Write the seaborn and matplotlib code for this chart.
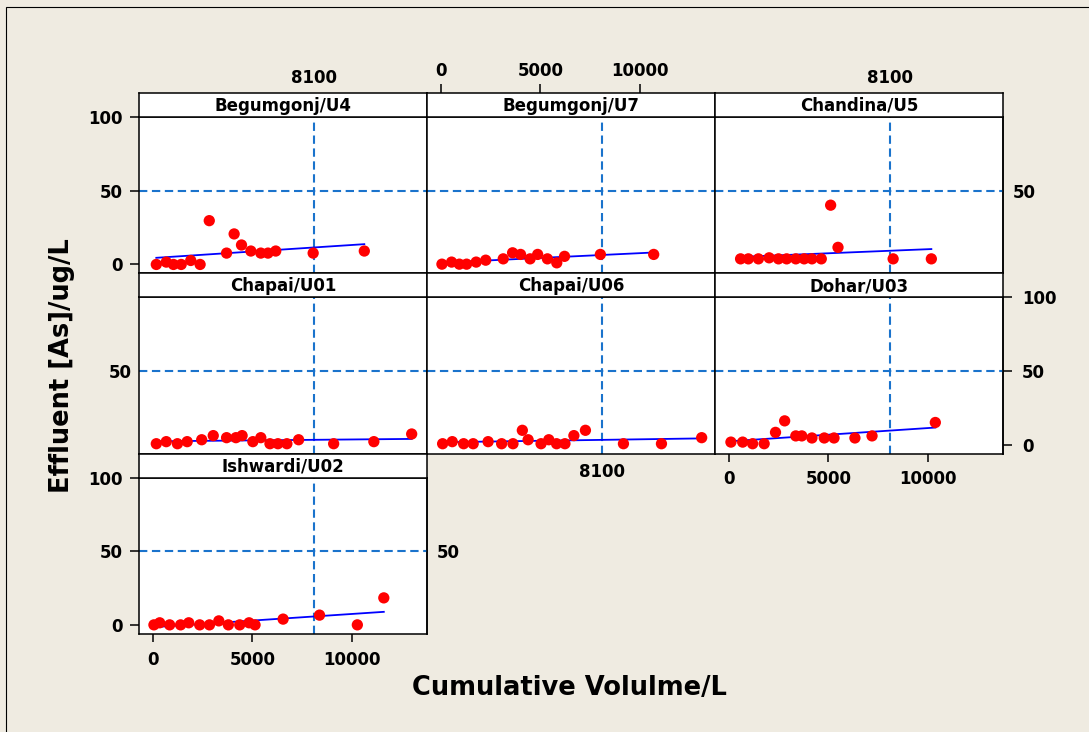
import numpy as np
import pandas as pd
import matplotlib
matplotlib.use('Agg')
import matplotlib.pyplot as plt
from matplotlib.patches import Rectangle
import seaborn as sns

# panels, in the order they are laid out
sites = ['Begumgonj/U4', 'Begumgonj/U7', 'Chandina/U5',
         'Chapai/U01', 'Chapai/U06', 'Dohar/U03', 'Ishwardi/U02']

# cumulative volume (L) and effluent arsenic (ug/L)
vol_begumgonj_u4 = [170, 670, 1030, 1420, 1900, 2370, 2830, 3700, 4080, 4450,
                    4920, 5420, 5780, 6170, 8050, 10620]
as_begumgonj_u4 = [0, 1.6, 0, 0, 2.7, 0, 29.7, 7.7, 20.7, 13.2,
                   9.1, 7.7, 7.7, 9.1, 7.7, 9.1]

vol_begumgonj_u7 = [50, 535, 925, 1290, 1770, 2250, 3130, 3600, 4000, 4480,
                    4860, 5350, 5820, 6210, 8010, 10690]
as_begumgonj_u7 = [0.2, 1.6, 0.2, 0.2, 1.6, 2.9, 3.8, 7.9, 6.8, 3.8,
                   6.8, 3.8, 1.1, 5.5, 6.8, 6.8]

vol_chandina_u5 = [585, 975, 1480, 2020, 2490, 2900, 3360, 3780, 4170, 4640,
                   5110, 5480, 8250, 10170]
as_chandina_u5 = [3.8, 3.8, 3.8, 4.5, 3.8, 3.8, 3.8, 3.8, 3.8, 3.8,
                  40.2, 11.6, 3.8, 3.8]

vol_chapai_u01 = [170, 670, 1230, 1720, 2450, 3030, 3700, 4170, 4480, 5020,
                  5420, 5880, 6280, 6730, 7320, 9080, 11100, 13000]
as_chapai_u01 = [0.7, 2.1, 0.7, 2.1, 3.4, 6.2, 4.8, 4.8, 6.2, 2.1,
                 4.8, 0.7, 0.7, 0.7, 3.4, 0.7, 2.1, 7.3]

vol_chapai_u06 = [85, 570, 1140, 1620, 2370, 3050, 3620, 4090, 4380, 5030,
                  5420, 5810, 6230, 6680, 7260, 9170, 11080, 13100]
as_chapai_u06 = [0.7, 2.1, 0.7, 0.7, 2.1, 0.7, 0.7, 9.8, 3.4, 0.7,
                 3.4, 0.7, 0.7, 6.2, 9.8, 0.7, 0.7, 4.8]

vol_dohar_u03 = [100, 690, 1190, 1770, 2340, 2800, 3360, 3660, 4170, 4790,
                 5280, 6330, 7190, 10370]
as_dohar_u03 = [1.8, 1.8, 0.7, 0.7, 8.4, 16.2, 6.0, 6.0, 4.6, 4.6,
                4.6, 4.6, 6.0, 15.1]

vol_ishwardi_u02 = [50, 340, 840, 1390, 1800, 2350, 2840, 3310, 3790, 4360,
                    4830, 5130, 6540, 8370, 10270, 11600]
as_ishwardi_u02 = [0.2, 1.6, 0.2, 0.2, 1.6, 0.2, 0.2, 2.9, 0.2, 0.2,
                   1.6, 0.2, 4.1, 6.8, 0.2, 18.5]

# reference lines and ticks
ref_volume = 8100
ref_arsenic = 50
x_ticks = [0, 5000, 10000]
y_ticks = [0, 50, 100]

# which side of which panel carries tick labels (Minitab-style alternation)
left_ticks = {'Begumgonj/U4': 'major', 'Chapai/U01': 'ref', 'Ishwardi/U02': 'major'}
right_ticks = {'Chandina/U5': 'ref', 'Dohar/U03': 'major', 'Ishwardi/U02': 'ref'}
top_ticks = {'Begumgonj/U4': 'ref', 'Begumgonj/U7': 'major', 'Chandina/U5': 'ref'}
bottom_ticks = {'Chapai/U06': 'ref', 'Dohar/U03': 'major', 'Ishwardi/U02': 'major'}

vols = [vol_begumgonj_u4, vol_begumgonj_u7, vol_chandina_u5, vol_chapai_u01,
        vol_chapai_u06, vol_dohar_u03, vol_ishwardi_u02]
arsenic = [as_begumgonj_u4, as_begumgonj_u7, as_chandina_u5, as_chapai_u01,
           as_chapai_u06, as_dohar_u03, as_ishwardi_u02]

df = pd.concat([pd.DataFrame({'site': s, 'volume': v, 'arsenic': a})
                for s, v, a in zip(sites, vols, arsenic)], ignore_index=True)

plt.rcParams['font.family'] = ['DejaVu Sans']
bg = '#EFEBE1'
ref_blue = '#1A73CC'

W, H = 1089, 732
g = sns.FacetGrid(df, col='site', col_order=sites, col_wrap=3,
                  sharex=False, sharey=False, despine=False)
fig = g.figure
fig.set_size_inches(W / 100, H / 100)
fig.set_dpi(100)
fig.patch.set_facecolor(bg)

g.map_dataframe(sns.regplot, x='volume', y='arsenic', ci=None, truncate=True,
                scatter_kws={'s': 66, 'color': '#FF0000', 'edgecolor': 'none',
                             'alpha': 1, 'zorder': 3},
                line_kws={'color': '#0000FF', 'lw': 1.3, 'zorder': 2})
g.set_titles('')
g.set_axis_labels('', '')

col_left = [139, 427, 715]
panel_w = 288
strip_top = [93, 273.3, 453.7]
strip_h = 24
axes_h = 156.3
xlim = (-700, 13770)
ylim = (-6, 100)
tick_kw = dict(fontsize=12, fontweight='bold')

for i, site in enumerate(sites):
    ax = g.axes_dict[site]
    r, c = divmod(i, 3)
    left = col_left[c] / W
    ax_top = strip_top[r] + strip_h
    ax.set_position([left, 1 - (ax_top + axes_h) / H, panel_w / W, axes_h / H])
    ax.set_facecolor('white')
    for sp in ax.spines.values():
        sp.set_linewidth(1.1)
        sp.set_color('black')

    ax.axhline(ref_arsenic, color=ref_blue, lw=1.5, ls=(0, (4, 2.2)), zorder=1)
    ax.axvline(ref_volume, color=ref_blue, lw=1.5, ls=(0, (4, 2.2)), zorder=1)

    ax.tick_params(left=False, bottom=False, right=False, top=False,
                   labelleft=False, labelbottom=False)

    kind = left_ticks.get(site)
    if kind:
        vals = y_ticks if kind == 'major' else [ref_arsenic]
        ax.set_yticks(vals)
        ax.set_yticklabels([str(v) for v in vals], **tick_kw)
        ax.tick_params(axis='y', left=True, labelleft=True, width=1.1,
                       length=6.5 if kind == 'major' else 0, pad=5)

    kind = bottom_ticks.get(site)
    if kind:
        vals = x_ticks if kind == 'major' else [ref_volume]
        ax.set_xticks(vals)
        ax.set_xticklabels([str(v) for v in vals], **tick_kw)
        ax.tick_params(axis='x', bottom=True, labelbottom=True, width=1.1,
                       length=6 if kind == 'major' else 0,
                       pad=6 if kind == 'major' else 7)

    kind = right_ticks.get(site)
    if kind:
        sec = ax.secondary_yaxis('right')
        vals = y_ticks if kind == 'major' else [ref_arsenic]
        sec.set_yticks(vals)
        sec.set_yticklabels([str(v) for v in vals], **tick_kw)
        sec.tick_params(width=1.1, length=6.5 if kind == 'major' else 0, pad=7)
        sec.spines['right'].set_linewidth(1.1)

    ax.set_xlim(xlim)
    ax.set_ylim(ylim)

    # strip with the panel name, sharing the panel's x range
    sax = fig.add_axes([left, 1 - ax_top / H, panel_w / W, strip_h / H])
    sax.set_facecolor('white')
    sax.set_xlim(xlim)
    sax.set_ylim(0, 1)
    sax.set_yticks([])
    for sp in sax.spines.values():
        sp.set_linewidth(1.1)
        sp.set_color('black')
    sax.text(0.5, 0.47, site, transform=sax.transAxes, ha='center', va='center',
             fontsize=12, fontweight='bold')
    kind = top_ticks.get(site)
    if kind:
        vals = x_ticks if kind == 'major' else [ref_volume]
        sax.xaxis.tick_top()
        sax.set_xticks(vals)
        sax.set_xticklabels([str(v) for v in vals], **tick_kw)
        sax.tick_params(axis='x', top=True, bottom=False, labeltop=True,
                        labelbottom=False, width=1.1,
                        length=6.5 if kind == 'major' else 0,
                        pad=3 if kind == 'major' else 4.5)
    else:
        sax.set_xticks([])
    sax.set_xlim(xlim)

fig.text(62 / W, 1 - 366 / H, 'Effluent [As]/ug/L', rotation=90,
         ha='center', va='center', fontsize=18.5, fontweight='bold')
fig.text(569 / W, 1 - 688 / H, 'Cumulative Volulme/L',
         ha='center', va='center', fontsize=18.5, fontweight='bold')

# frame of the graph window (only left and top edges fall inside the image)
fig.add_artist(Rectangle((6 / W, -0.1), 1.2, 1.1 - 6.5 / H, transform=fig.transFigure,
                         fill=False, ec='black', lw=0.8))

fig.savefig('out.png', dpi=100, facecolor=bg)
